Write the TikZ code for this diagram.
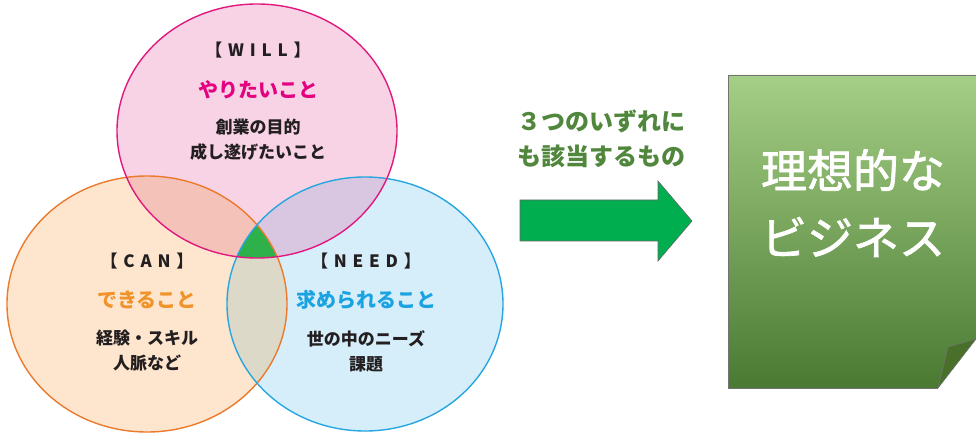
\documentclass[tikz,border=0pt]{standalone}
\usepackage{fontspec}
\newfontfamily\jp{Noto Sans CJK JP}
\newfontfamily\jpfb[FakeBold=1.6]{Noto Sans CJK JP}
\newfontfamily\jpsp[LetterSpace=34]{Noto Sans CJK JP}
\definecolor{willF}{RGB}{248,211,230}
\definecolor{canF}{RGB}{253,230,205}
\definecolor{needF}{RGB}{213,238,250}
\definecolor{wcF}{RGB}{245,194,185}
\definecolor{wnF}{RGB}{217,198,225}
\definecolor{cnF}{RGB}{220,217,200}
\definecolor{triF}{RGB}{46,176,75}
\definecolor{willS}{RGB}{224,25,126}
\definecolor{canS}{RGB}{236,122,46}
\definecolor{needS}{RGB}{39,166,223}
\definecolor{willT}{RGB}{228,0,127}
\definecolor{canT}{RGB}{240,147,43}
\definecolor{needT}{RGB}{26,163,224}
\definecolor{bodyT}{RGB}{35,31,32}
\definecolor{arrG}{RGB}{0,174,80}
\definecolor{txtG}{RGB}{80,135,60}
\definecolor{boxTop}{RGB}{165,206,134}
\definecolor{boxBot}{RGB}{74,122,50}
\definecolor{flap}{RGB}{72,112,42}
\begin{document}
\begin{tikzpicture}[x=1pt,y=-1pt,
  brk/.style={font=\jpsp\bfseries\fontsize{17pt}{18pt}\selectfont, text=bodyT, inner sep=0pt},
  head/.style={font=\jp\bfseries\fontsize{20pt}{24pt}\selectfont, inner sep=0pt},
  body/.style={font=\jp\bfseries\fontsize{17pt}{25pt}\selectfont, text=bodyT, inner sep=0pt, align=center},
  circ/.style={line width=1.4pt}]
\useasboundingbox (0,0) rectangle (976,435);
\coordinate (W) at (257,131);
\coordinate (C) at (147,304);
\coordinate (N) at (365,304);
% fills
\fill[willF] (W) ellipse [x radius=140pt, y radius=127pt];
\fill[canF] (C) ellipse [x radius=140pt, y radius=128pt];
\fill[needF] (N) ellipse [x radius=138pt, y radius=127pt];
\begin{scope}
\clip (W) ellipse [x radius=140pt, y radius=127pt];
\fill[wcF] (C) ellipse [x radius=140pt, y radius=128pt];
\fill[wnF] (N) ellipse [x radius=138pt, y radius=127pt];
\end{scope}
\begin{scope}
\clip (C) ellipse [x radius=140pt, y radius=128pt];
\fill[cnF] (N) ellipse [x radius=138pt, y radius=127pt];
\end{scope}
\begin{scope}
\clip (W) ellipse [x radius=140pt, y radius=127pt];
\clip (C) ellipse [x radius=140pt, y radius=128pt];
\fill[triF] (N) ellipse [x radius=138pt, y radius=127pt];
\end{scope}
% strokes
\draw[circ, canS] (C) ellipse [x radius=140pt, y radius=128pt];
\draw[circ, needS] (N) ellipse [x radius=138pt, y radius=127pt];
\draw[circ, willS] (W) ellipse [x radius=140pt, y radius=127pt];
% texts
\node[brk] (wb) at (258,50) {【WILL】};
\node[head, text=willT] (wh) at (258,90) {やりたいこと};
\node[body] (wt) at (258,139.5) {創業の目的\\成し遂げたいこと};
\node[brk] (cb) at (147,261) {【CAN】};
\node[head, text=canT] (ch) at (147,300) {できること};
\node[body] (ct) at (147,351) {経験・スキル\\人脈など};
\node[brk] (nb) at (366,261) {【NEED】};
\node[head, text=needT] (nh) at (366,300) {求められること};
\node[body] (nt) at (366,351) {世の中のニーズ\\課題};
% arrow
\draw[fill=arrG, draw=black!60, line width=0.6pt]
  (520,200) -- (658,200) -- (658,181) -- (692,221) -- (658,261) -- (658,241) -- (520,241) -- cycle;
\node[font=\jp\bfseries\fontsize{24pt}{35pt}\selectfont, text=txtG, align=center, inner sep=0pt] (at) at (601,139) {３つのいずれに\\も該当するもの};
% box
\shade[top color=boxTop, bottom color=boxBot]
  (728,75) -- (976,75) -- (976,339) -- (938,388) -- (728,388) -- cycle;
\draw[black!55, line width=0.6pt] (976,75) -- (728,75) -- (728,388) -- (938,388);
\draw[fill=flap, draw=black!55, line width=0.6pt] (938,388) -- (948,347) -- (976,339) -- cycle;
\node[font=\jpfb\fontsize{46pt}{67pt}\selectfont, text=white, align=center, inner sep=0pt] (bt) at (853,203) {理想的な\\ビジネス};
\end{tikzpicture}
\end{document}
